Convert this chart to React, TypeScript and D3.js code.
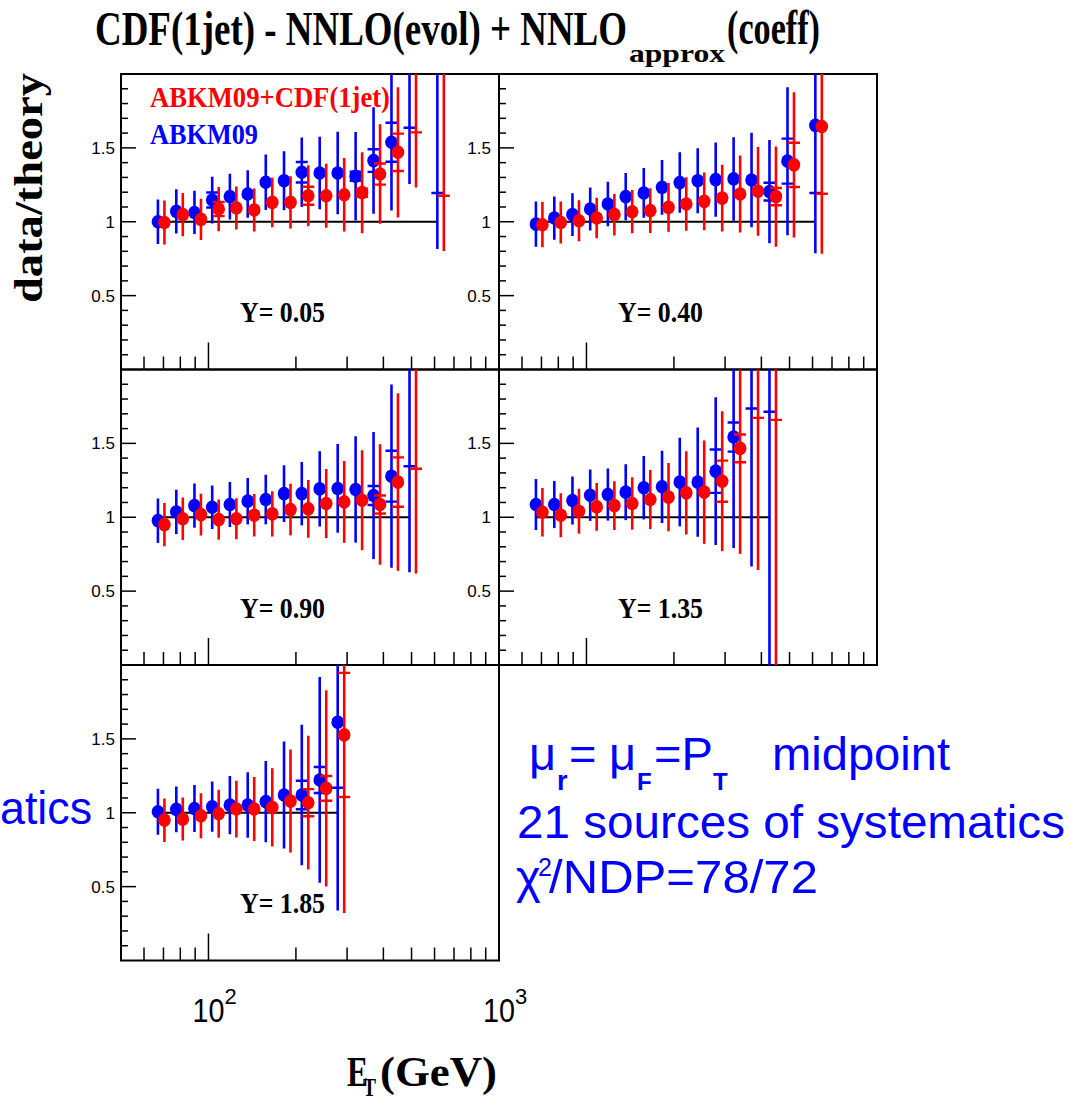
import React from "react";
import * as d3 from "d3";

// ---- data ----
const etBins = [67, 77.5, 89.5, 103, 118.5, 136.5, 157.5, 182, 209.5, 241.5, 278.5, 321, 370, 426.5, 492, 613.5];
const rapidityLabels = ["Y= 0.05", "Y= 0.40", "Y= 0.90", "Y= 1.35", "Y= 1.85"];

// ABKM09 (blue) data/theory
const blueY005 = [1.0, 1.07, 1.063, 1.147, 1.17, 1.188, 1.267, 1.278, 1.335, 1.33, 1.33, 1.308, 1.414, 1.538, 2.1, 2.5];
const blueY040 = [0.984, 1.025, 1.048, 1.086, 1.12, 1.17, 1.195, 1.233, 1.265, 1.278, 1.285, 1.29, 1.283, 1.204, 1.41, 1.652];
const blueY090 = [0.977, 1.036, 1.079, 1.068, 1.086, 1.109, 1.12, 1.16, 1.16, 1.192, 1.195, 1.188, 1.147, 1.278, 2.3];
const blueY135 = [1.086, 1.086, 1.113, 1.149, 1.154, 1.17, 1.2, 1.206, 1.238, 1.238, 1.312, 1.543, 2.2, 2.2];
const blueY185 = [1.007, 1.023, 1.029, 1.041, 1.052, 1.052, 1.075, 1.12, 1.12, 1.222, 1.613];

// ABKM09+CDF(1jet) (red) data/theory
const redY005 = [0.995, 1.048, 1.016, 1.086, 1.093, 1.08, 1.131, 1.131, 1.176, 1.176, 1.183, 1.197, 1.323, 1.47, 2.06, 2.46];
const redY040 = [0.98, 0.995, 1.007, 1.025, 1.048, 1.068, 1.075, 1.097, 1.12, 1.138, 1.16, 1.188, 1.206, 1.17, 1.385, 1.645];
const redY090 = [0.95, 0.99, 1.018, 0.984, 0.99, 1.014, 1.023, 1.052, 1.057, 1.093, 1.104, 1.115, 1.086, 1.238, 2.27];
const redY135 = [1.034, 1.014, 1.041, 1.07, 1.079, 1.093, 1.12, 1.136, 1.165, 1.17, 1.244, 1.466, 2.12, 2.13];
const redY185 = [0.95, 0.957, 0.98, 0.993, 1.025, 1.025, 1.036, 1.079, 1.068, 1.165, 1.527];

// relative total errors
const errY005 = [0.15, 0.14, 0.138, 0.138, 0.133, 0.135, 0.148, 0.156, 0.176, 0.184, 0.21, 0.229, 0.255, 0.3, 0.402, 0.674];
const errY040 = [0.156, 0.143, 0.138, 0.134, 0.134, 0.137, 0.141, 0.15, 0.162, 0.172, 0.195, 0.219, 0.249, 0.29, 0.355, 0.524];
const errY090 = [0.154, 0.145, 0.139, 0.138, 0.14, 0.142, 0.15, 0.166, 0.185, 0.214, 0.251, 0.303, 0.375, 0.485, 0.727];
const errY135 = [0.159, 0.147, 0.146, 0.151, 0.153, 0.162, 0.179, 0.203, 0.242, 0.299, 0.381, 0.487, 0.697, 1.05];
const errY185 = [0.155, 0.152, 0.155, 0.163, 0.187, 0.211, 0.256, 0.323, 0.424, 0.57, 0.79];

// relative statistical errors (caps), 0 = not visible
const statY005 = [0, 0, 0, 0.044, 0, 0, 0, 0, 0.052, 0, 0, 0.023, 0.054, 0.086, 0.221, 0.522];
const statY040 = [0, 0, 0, 0, 0, 0, 0, 0, 0, 0, 0, 0, 0, 0.05, 0.108, 0.277];
const statY090 = [0, 0, 0, 0, 0, 0, 0, 0, 0, 0, 0, 0, 0.056, 0.135, 0.415];
const statY135 = [0, 0, 0, 0, 0, 0, 0, 0, 0, 0, 0.112, 0.064, 0.211, 0.221];
const statY185 = [0, 0, 0, 0, 0, 0, 0, 0, 0.086, 0.072, 0.275];

const yTickLabels = [0.5, 1, 1.5];
const xMinorTicks = [60, 70, 80, 90, 200, 300, 400, 500, 600, 700, 800, 900];
const xMajorTicks = [100];

const panels = [
  { label: rapidityLabels[0], col: 0, row: 0, blue: blueY005, red: redY005, err: errY005, stat: statY005 },
  { label: rapidityLabels[1], col: 1, row: 0, blue: blueY040, red: redY040, err: errY040, stat: statY040 },
  { label: rapidityLabels[2], col: 0, row: 1, blue: blueY090, red: redY090, err: errY090, stat: statY090 },
  { label: rapidityLabels[3], col: 1, row: 1, blue: blueY135, red: redY135, err: errY135, stat: statY135 },
  { label: rapidityLabels[4], col: 0, row: 2, blue: blueY185, red: redY185, err: errY185, stat: statY185 },
];

// ---- layout ----
const colLeft = [121, 499];
const rowTop = [74, 369.5, 665];
const PW = 378;
const PH = 295.5;
const BLUE = "#0000ff";
const RED = "#ff0000";
const SERIF = "'Liberation Serif', 'Times New Roman', serif";
const SANS = "'Liberation Sans', Arial, sans-serif";

function Series({ xs, ys, et, vals, err, stat, color, dx }) {
  return (
    <g>
      {vals.map((v, i) => {
        const x = xs(et[i]) + dx;
        const e = err[i];
        const s = stat[i];
        return (
          <g key={i}>
            <line x1={x} x2={x} y1={ys(v * (1 + e))} y2={ys(v * (1 - e))} stroke={color} strokeWidth={2.6} />
            {s > 0 && (
              <g>
                <line x1={x - 6} x2={x + 6} y1={ys(v * (1 + s))} y2={ys(v * (1 + s))} stroke={color} strokeWidth={2.4} />
                <line x1={x - 6} x2={x + 6} y1={ys(v * (1 - s))} y2={ys(v * (1 - s))} stroke={color} strokeWidth={2.4} />
              </g>
            )}
            <ellipse cx={x} cy={ys(v)} rx={6.3} ry={6.8} fill={color} />
          </g>
        );
      })}
    </g>
  );
}

function Panel({ p, idx }) {
  const x0 = colLeft[p.col];
  const y0 = rowTop[p.row];
  const xs = d3.scaleLog().domain([50, 1000]).range([x0, x0 + PW]);
  const ys = d3.scaleLinear().domain([0, 2]).range([y0 + PH, y0]);
  const et = etBins.slice(0, p.blue.length);
  const yTicks = d3.range(1, 20).map((i) => i / 10);
  const clipId = `clip${idx}`;
  return (
    <g>
      <defs>
        <clipPath id={clipId}>
          <rect x={x0} y={y0} width={PW} height={PH} />
        </clipPath>
      </defs>
      <rect x={x0} y={y0} width={PW} height={PH} fill="none" stroke="#000" strokeWidth={2} />
      {yTicks.map((t) => {
        const major = Math.abs(t * 2 - Math.round(t * 2)) < 1e-6;
        return (
          <line key={t} x1={x0} x2={x0 + (major ? 15 : 7)} y1={ys(t)} y2={ys(t)} stroke="#000" strokeWidth={1.5} />
        );
      })}
      {xMinorTicks.map((t) => (
        <line key={t} x1={xs(t)} x2={xs(t)} y1={y0 + PH} y2={y0 + PH - 13} stroke="#000" strokeWidth={1.5} />
      ))}
      {xMajorTicks.map((t) => (
        <line key={t} x1={xs(t)} x2={xs(t)} y1={y0 + PH} y2={y0 + PH - 27} stroke="#000" strokeWidth={1.5} />
      ))}
      {yTickLabels.map((t) => (
        <text key={t} x={x0 - (p.col === 0 ? 6 : 8)} y={ys(t)} dy="0.35em" textAnchor="end" fontFamily={SANS} fontSize={17} fill="#000">
          {t}
        </text>
      ))}
      <g clipPath={`url(#${clipId})`}>
        <line x1={xs(et[0])} x2={xs(et[et.length - 1])} y1={ys(1)} y2={ys(1)} stroke="#000" strokeWidth={2.2} />
        <Series xs={xs} ys={ys} et={et} vals={p.blue} err={p.err} stat={p.stat} color={BLUE} dx={0} />
        <Series xs={xs} ys={ys} et={et} vals={p.red} err={p.err} stat={p.stat} color={RED} dx={6.5} />
      </g>
      <text x={x0 + 119} y={y0 + 248} fontFamily={SERIF} fontWeight="bold" fontSize={30} textLength={85} lengthAdjust="spacingAndGlyphs" fill="#000">
        {p.label}
      </text>
    </g>
  );
}

export default function App() {
  const xsBottom = d3.scaleLog().domain([50, 1000]).range([colLeft[0], colLeft[0] + PW]);
  return (
    <svg width={1073} height={1100} style={{ position: "absolute", left: 0, top: 0, background: "#fff" }}>
      <rect x={0} y={0} width={1073} height={1100} fill="#fff" />
      {/* title */}
      <text x={95} y={45} fontFamily={SERIF} fontWeight="bold" fontSize={48} textLength={532} lengthAdjust="spacingAndGlyphs">
        CDF(1jet) - NNLO(evol) + NNLO
      </text>
      <text x={629} y={62} fontFamily={SERIF} fontWeight="bold" fontSize={26} textLength={96} lengthAdjust="spacingAndGlyphs">
        approx
      </text>
      <text x={727} y={44} fontFamily={SERIF} fontWeight="bold" fontSize={48} textLength={93} lengthAdjust="spacingAndGlyphs">
        (coeff)
      </text>

      {/* y title */}
      <text transform="translate(42,188) rotate(-90)" textAnchor="middle" fontFamily={SERIF} fontWeight="bold" fontSize={40} textLength={230} lengthAdjust="spacingAndGlyphs">
        data/theory
      </text>

      {panels.map((p, i) => (
        <Panel key={i} p={p} idx={i} />
      ))}

      {/* legend */}
      <text x={150} y={107} fontFamily={SERIF} fontWeight="bold" fontSize={30} fill={RED} textLength={240} lengthAdjust="spacingAndGlyphs">
        ABKM09+CDF(1jet)
      </text>
      <text x={150} y={144} fontFamily={SERIF} fontWeight="bold" fontSize={30} fill={BLUE} textLength={108} lengthAdjust="spacingAndGlyphs">
        ABKM09
      </text>

      {/* x axis labels */}
      {[2, 3].map((e) => {
        const x = xsBottom(Math.pow(10, e));
        return (
          <g key={e}>
            <text x={x} y={1022} textAnchor="middle" fontFamily={SANS} fontSize={33} textLength={32} lengthAdjust="spacingAndGlyphs">
              10
            </text>
            <text x={x + 16} y={1004} fontFamily={SANS} fontSize={22}>
              {e}
            </text>
          </g>
        );
      })}
      <text x={347} y={1086} fontFamily={SERIF} fontWeight="bold" fontSize={42} textLength={21} lengthAdjust="spacingAndGlyphs">
        E
      </text>
      <text x={363} y={1096} fontFamily={SERIF} fontWeight="bold" fontSize={25} textLength={13} lengthAdjust="spacingAndGlyphs">
        T
      </text>
      <text x={380} y={1086} fontFamily={SERIF} fontWeight="bold" fontSize={42} textLength={117} lengthAdjust="spacingAndGlyphs">
        (GeV)
      </text>

      {/* annotation */}
      <g fontFamily={SANS} fill={BLUE}>
        <text x={0} y={824} fontSize={47} textLength={92} lengthAdjust="spacingAndGlyphs">
          atics
        </text>
        <text x={529} y={770} fontSize={47}>μ</text>
        <text x={557} y={790} fontSize={27} fontWeight="bold">r</text>
        <text x={569} y={770} fontSize={47}>=</text>
        <text x={609} y={770} fontSize={47}>μ</text>
        <text x={637} y={790} fontSize={24} fontWeight="bold">F</text>
        <text x={654} y={770} fontSize={47}>=P</text>
        <text x={713} y={790} fontSize={24} fontWeight="bold">T</text>
        <text x={772} y={770} fontSize={47} textLength={178} lengthAdjust="spacingAndGlyphs">midpoint</text>
        <text x={517} y={838} fontSize={47} textLength={548} lengthAdjust="spacingAndGlyphs">
          21 sources of systematics
        </text>
        <text x={516} y={893} fontSize={47}>χ</text>
        <text x={538} y={876} fontSize={25}>2</text>
        <text x={549} y={893} fontSize={47} textLength={269} lengthAdjust="spacingAndGlyphs">/NDP=78/72</text>
      </g>
    </svg>
  );
}
